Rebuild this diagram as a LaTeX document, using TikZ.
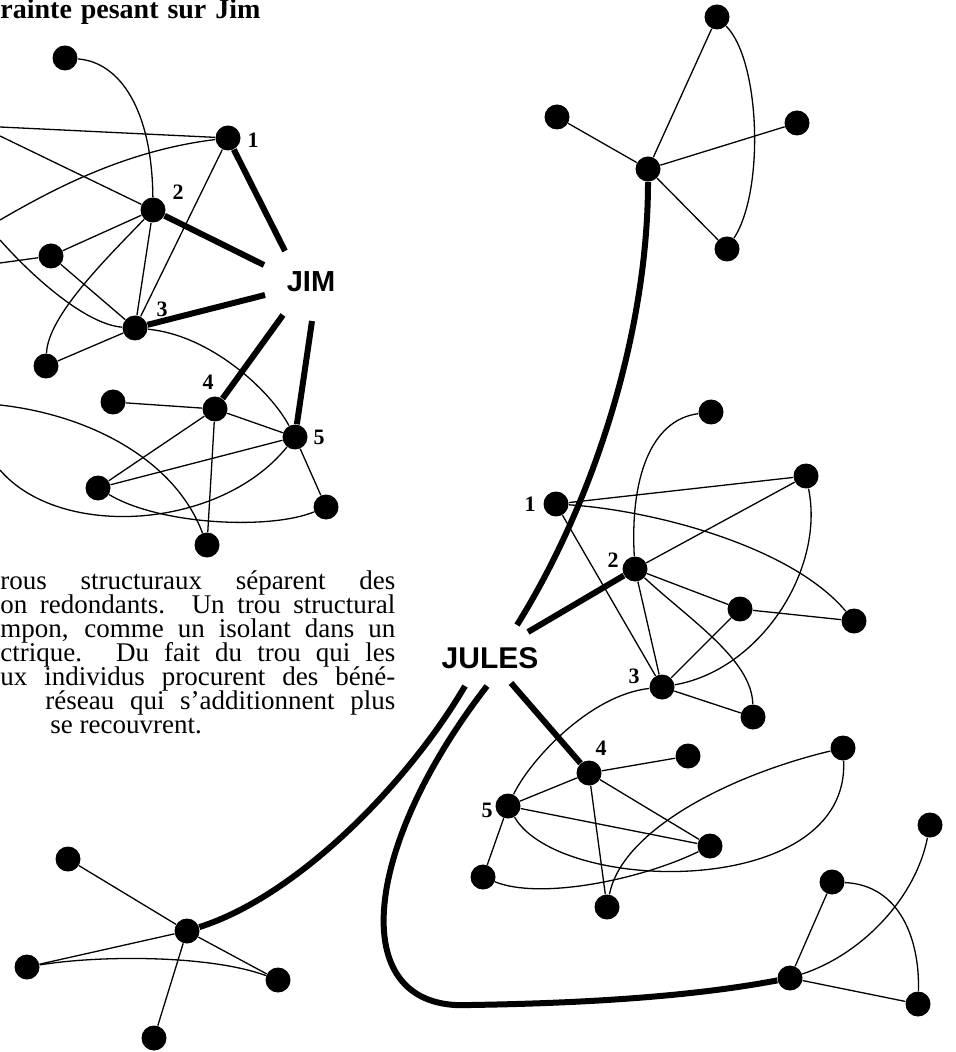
\documentclass[tikz,border=0pt]{standalone}
\usepackage{fontspec}
\setmainfont{Liberation Serif}
\setsansfont{Liberation Sans}
\begin{document}
\begin{tikzpicture}[x=0.5pt,y=-0.5pt,
  dot/.style={circle,fill=black,inner sep=0pt,minimum size=12.5pt},
  tie/.style={line width=0.65pt},
  heavy/.style={line width=3pt},
  num/.style={font=\bfseries\fontsize{11}{13}\selectfont,inner sep=0pt},
  ego/.style={font=\sffamily\bfseries\fontsize{14.5}{16}\selectfont,inner sep=0pt}]
\useasboundingbox (0,0) rectangle (955,1052);

% ---------- title and paragraph ----------
\node[anchor=base west,inner sep=0pt,font=\bfseries\fontsize{14}{16}\selectfont] (title) at (0,19) {\makebox[130pt][s]{rainte pesant sur Jim}};
\node[anchor=base west,inner sep=0pt] (para) at (0,589) {\parbox[t]{197.5pt}{\fontsize{13.5}{12}\selectfont\lineskiplimit=-30pt\lineskip=0pt
\makebox[197.5pt][s]{rous structuraux séparent des}\\
\makebox[197.5pt][s]{on redondants. Un trou structural}\\
\makebox[197.5pt][s]{mpon, comme un isolant dans un}\\
\makebox[197.5pt][s]{ctrique. Du fait du trou qui les}\\
\makebox[197.5pt][s]{ux individus procurent des béné-}\\
\hspace*{22.5pt}\makebox[175pt][s]{réseau qui s’additionnent plus}\\
\hspace*{25pt}se recouvrent.}};

% ---------- egos ----------
\node[ego] (jim) at (311,282) {JIM};
\node[ego,font=\sffamily\bfseries\fontsize{15}{17}\selectfont] (jules) at (490,658) {JULES};

% ---------- Jim network ----------
\node[dot] (A) at (65,58) {};
\node[dot] (J1) at (228,138) {};
\node[dot] (J2) at (153,210) {};
\node[dot] (Ja) at (51,256) {};
\node[dot] (J3) at (135,328) {};
\node[dot] (Jb) at (46,366) {};
\node[dot] (Jc) at (113,402) {};
\node[dot] (J4) at (215,409) {};
\node[dot] (J5) at (295,437) {};
\node[dot] (Jd) at (98,488) {};
\node[dot] (Je) at (326,507) {};
\node[dot] (Jf) at (207,545) {};
\node[num] (n1) at (253,140) {1};
\node[num] (n2) at (178,192) {2};
\node[num] (n3) at (162,309) {3};
\node[num] (n4) at (208,382) {4};
\node[num] (n5) at (319,437) {5};
\coordinate (e1) at (0,127);
\coordinate (e2) at (0,136);
\coordinate (e3) at (0,220);
\coordinate (e4) at (0,263);
\coordinate (e5) at (0,240);
\coordinate (e6) at (0,470);
\coordinate (e7) at (0,405);
\draw[tie] (J1) -- (e1);
\draw[tie] (e2) -- (J2);
\draw[tie] (J1) .. controls (130,150) and (60,185) .. (e3);
\draw[tie] (A) .. controls (120,62) and (152,110) .. (J2);
\draw[tie] (J1) -- (J3);
\draw[tie] (J2) -- (Ja);
\draw[tie] (J2) -- (J3);
\draw[tie] (J2) .. controls (110,255) and (48,315) .. (Jb);
\draw[tie] (Ja) -- (J3);
\draw[tie] (Ja) -- (e4);
\draw[tie] (e5) .. controls (40,285) and (90,325) .. (J3);
\draw[tie] (J3) .. controls (210,335) and (270,390) .. (J5);
\draw[tie] (J3) -- (Jb);
\draw[tie] (Jc) -- (J4);
\draw[tie] (J4) -- (J5);
\draw[tie] (J4) -- (Jd);
\draw[tie] (J4) -- (Jf);
\draw[tie] (J5) -- (Jd);
\draw[tie] (J5) -- (Je);
\draw[tie] (e6) .. controls (60,540) and (220,530) .. (J5);
\draw[tie] (Jd) .. controls (160,525) and (270,530) .. (Je);
\draw[tie] (e7) .. controls (90,415) and (175,460) .. (Jf);
\coordinate (jim1) at (285,251);
\coordinate (jim2) at (264,265);
\coordinate (jim3) at (265,295);
\coordinate (jim4) at (283,315);
\coordinate (jim5) at (312,321);
\draw[heavy] (J1) -- (jim1);
\draw[heavy] (J2) -- (jim2);
\draw[heavy] (J3) -- (jim3);
\draw[heavy] (J4) -- (jim4);
\draw[heavy] (J5) -- (jim5);

% ---------- top-right cluster ----------
\node[dot] (Tt) at (717,17) {};
\node[dot] (Tl) at (557,117) {};
\node[dot] (Tc) at (648,169) {};
\node[dot] (Tr) at (797,123) {};
\node[dot] (Tb) at (727,249) {};
\draw[tie] (Tc) -- (Tt);
\draw[tie] (Tc) -- (Tl);
\draw[tie] (Tc) -- (Tr);
\draw[tie] (Tc) -- (Tb);
\draw[tie] (Tt) .. controls (760,60) and (765,190) .. (Tb);

% ---------- right-middle cluster ----------
\node[dot] (Rt) at (711,412) {};
\node[dot] (Rr) at (806,476) {};
\node[dot] (R1) at (556,504) {};
\node[dot] (R2) at (635,569) {};
\node[dot] (Rm) at (740,609) {};
\node[dot] (Rrr) at (854,621) {};
\node[dot] (R3) at (662,687) {};
\node[dot] (R3b) at (753,717) {};
\node[num] (m1) at (530,504) {1};
\node[num] (m2) at (613,560) {2};
\node[num] (m3) at (634,676) {3};
\draw[tie] (Rt) .. controls (650,420) and (630,480) .. (R2);
\draw[tie] (R1) -- (Rr);
\draw[tie] (R1) .. controls (650,510) and (790,545) .. (Rrr);
\draw[tie] (R1) -- (R3);
\draw[tie] (R2) -- (Rr);
\draw[tie] (R2) -- (Rm);
\draw[tie] (R2) -- (R3);
\draw[tie] (R2) .. controls (690,620) and (752,660) .. (R3b);
\draw[tie] (Rm) -- (Rrr);
\draw[tie] (Rm) -- (R3);
\draw[tie] (Rr) .. controls (825,570) and (760,670) .. (R3);
\draw[tie] (R3) -- (R3b);

% ---------- lower cluster ----------
\node[dot] (L4) at (589,773) {};
\node[dot] (L5) at (508,806) {};
\node[dot] (La) at (688,756) {};
\node[dot] (Lb) at (843,748) {};
\node[dot] (Lc) at (710,846) {};
\node[dot] (Ld) at (483,877) {};
\node[dot] (Le) at (607,907) {};
\node[num] (k4) at (601,748) {4};
\node[num] (k5) at (487,810) {5};
\draw[tie] (R3) .. controls (590,695) and (530,760) .. (L5);
\draw[tie] (L4) -- (La);
\draw[tie] (L4) -- (L5);
\draw[tie] (L4) -- (Lc);
\draw[tie] (L4) -- (Le);
\draw[tie] (L5) -- (Lc);
\draw[tie] (L5) -- (Ld);
\draw[tie] (L5) .. controls (560,895) and (850,900) .. (Lb);
\draw[tie] (Ld) .. controls (540,900) and (640,880) .. (Lc);
\draw[tie] (Le) .. controls (622,830) and (730,775) .. (Lb);

% ---------- bottom-right cluster ----------
\node[dot] (BRt) at (930,825) {};
\node[dot] (BRu) at (832,882) {};
\node[dot] (BRc) at (790,978) {};
\node[dot] (BRr) at (918,1004) {};
\draw[tie] (BRc) -- (BRu);
\draw[tie] (BRc) -- (BRr);
\draw[tie] (BRc) .. controls (860,955) and (915,900) .. (BRt);
\draw[tie] (BRu) .. controls (900,885) and (920,940) .. (BRr);

% ---------- bottom-left cluster ----------
\node[dot] (Bu) at (68,859) {};
\node[dot] (Bc) at (187,931) {};
\node[dot] (Bl) at (27,967) {};
\node[dot] (Br) at (278,980) {};
\node[dot] (Bd) at (154,1038) {};
\draw[tie] (Bc) -- (Bu);
\draw[tie] (Bc) -- (Bl);
\draw[tie] (Bc) -- (Br);
\draw[tie] (Bc) -- (Bd);
\draw[tie] (Bl) .. controls (100,955) and (210,955) .. (Br);

% ---------- Jules' ties ----------
\coordinate (jt) at (517,625);
\coordinate (jr) at (528,632);
\coordinate (jl) at (511,683);
\coordinate (jb) at (465,686);
\coordinate (jw) at (487,686);
\coordinate (jbend) at (470,1005);
\draw[heavy] (Tc) .. controls (648,330) and (595,500) .. (jt);
\draw[heavy] (R2) -- (jr);
\draw[heavy] (jl) -- (L4);
\draw[heavy] (Bc) .. controls (300,895) and (410,780) .. (jb);
\draw[heavy] (jw) .. controls (360,850) and (345,1012) .. (jbend) .. controls (600,1003) and (700,995) .. (BRc);
\end{tikzpicture}
\end{document}
